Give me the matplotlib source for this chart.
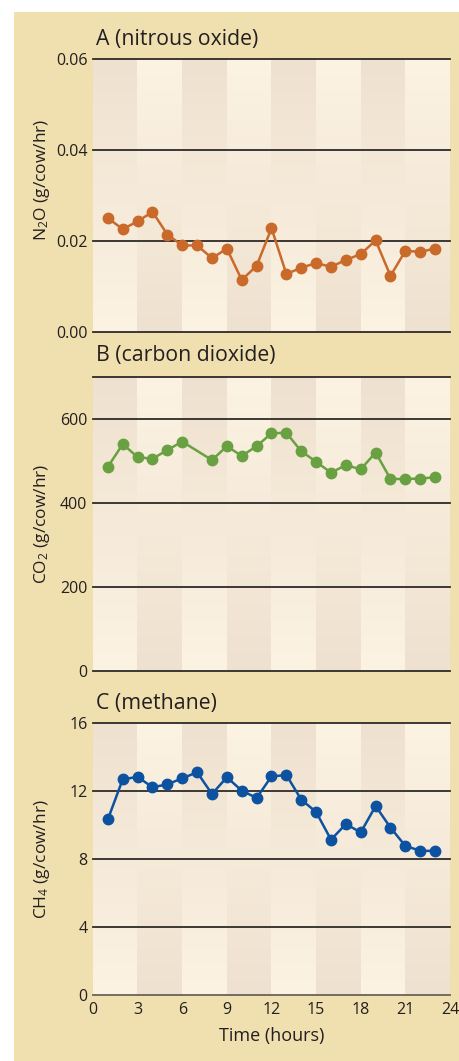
import matplotlib
matplotlib.use("Agg")
import matplotlib.pyplot as plt
import numpy as np
from matplotlib.patches import Rectangle
from matplotlib.colors import to_rgb

plt.rcParams['font.family'] = ['Open Sans', 'DejaVu Sans']
plt.rcParams['mathtext.fontset'] = 'custom'
plt.rcParams['mathtext.rm'] = 'Open Sans'
plt.rcParams['mathtext.it'] = 'Open Sans'

# ---- data ----
hours_a = [1, 2, 3, 4, 5, 6, 7, 8, 9, 10, 11, 12, 13, 14, 15, 16, 17, 18, 19, 20, 21, 22, 23]
n2o = [0.0250, 0.0226, 0.0243, 0.0264, 0.0214, 0.0190, 0.0190, 0.0162, 0.0183, 0.0114,
       0.0145, 0.0228, 0.0127, 0.0141, 0.0151, 0.0143, 0.0158, 0.0171, 0.0201, 0.0123,
       0.0178, 0.0176, 0.0183]

hours_b = [1, 2, 3, 4, 5, 6, 8, 9, 10, 11, 12, 13, 14, 15, 16, 17, 18, 19, 20, 21, 22, 23]
co2 = [486, 540, 509, 505, 526, 546, 502, 535, 512, 535, 566, 567, 523, 498, 472, 490,
       480, 520, 457, 457, 458, 461]

hours_c = [1, 2, 3, 4, 5, 6, 7, 8, 9, 10, 11, 12, 13, 14, 15, 16, 17, 18, 19, 20, 21, 22, 23]
ch4 = [10.34, 12.70, 12.84, 12.23, 12.40, 12.76, 13.11, 11.83, 12.82, 12.03, 11.60, 12.87,
       12.95, 11.50, 10.77, 9.14, 10.06, 9.57, 11.12, 9.85, 8.77, 8.49, 8.47]

titles = ["A (nitrous oxide)", "B (carbon dioxide)", "C (methane)"]
ylabels = [r"N$_2$O (g/cow/hr)", r"CO$_2$ (g/cow/hr)", r"CH$_4$ (g/cow/hr)"]
yticks_a = [0.00, 0.02, 0.04, 0.06]
ytick_labels_a = ["0.00", "0.02", "0.04", "0.06"]
yticks_b = [0, 200, 400, 600]
ytick_labels_b = ["0", "200", "400", "600"]
yticks_c = [0, 4, 8, 12, 16]
ytick_labels_c = ["0", "4", "8", "12", "16"]
xticks = [0, 3, 6, 9, 12, 15, 18, 21, 24]
xlabel = "Time (hours)"

# ---- style ----
W, H = 460, 1061
fig = plt.figure(figsize=(W / 100, H / 100), dpi=100)
fig.patch.set_facecolor('white')
fig.patches.append(Rectangle((14 / W, 0), 1 - 14 / W, 1 - 12 / H,
                             transform=fig.transFigure, facecolor='#F0E0B0',
                             edgecolor='none', zorder=-10))

dark_stripe = np.array(to_rgb('#EFE1CF'))
light_stripe = np.array(to_rgb('#FCF3E3'))
grid_color = '#2E2A28'
text_color = '#231F20'

# background stripes: each 3-hour band fades vertically from dark to light (or reverse)
n_rows = 200
t = np.linspace(0, 1, n_rows)[:, None]  # 0 at top, 1 at bottom
top_dark = dark_stripe * (1 - t) + light_stripe * t
top_light = light_stripe * (1 - t) + dark_stripe * t
stripe_img = np.zeros((n_rows, 8, 3))
for k in range(8):
    stripe_img[:, k, :] = top_dark if k % 2 == 0 else top_light

def px_axes(top, bottom, left=93, right=450):
    return [left / W, 1 - bottom / H, (right - left) / W, (bottom - top) / H]

panels = [
    dict(rect=px_axes(59.3, 331.7), x=hours_a, y=n2o, color='#C96A2A', ylim=(0, 0.06),
         yticks=yticks_a, ylab=ytick_labels_a, grid=yticks_a, title_y=39, ylab_y=180),
    dict(rect=px_axes(377, 670.7), x=hours_b, y=co2, color='#69A142', ylim=(0, 700),
         yticks=yticks_b, ylab=ytick_labels_b, grid=yticks_b + [700], title_y=355, ylab_y=524),
    dict(rect=px_axes(723.3, 994.7), x=hours_c, y=ch4, color='#0D52A0', ylim=(0, 16),
         yticks=yticks_c, ylab=ytick_labels_c, grid=yticks_c, title_y=703, ylab_y=859),
]

for i, p in enumerate(panels):
    ax = fig.add_axes(p['rect'])
    ax.set_zorder(1)
    ax.set_facecolor('none')
    ax.imshow(stripe_img, extent=[0, 24, p['ylim'][0], p['ylim'][1]], aspect='auto',
              interpolation='nearest', origin='upper', zorder=0)
    ax.set_xlim(0, 24)
    ax.set_ylim(*p['ylim'])
    for g in p['grid']:
        c = '#6A625A' if (i == 2 and g == 0) else grid_color
        ax.axhline(g, color=c, lw=1.3, zorder=1, clip_on=False)
    ax.plot(p['x'], p['y'], color=p['color'], lw=1.8, marker='o', ms=7.5,
            zorder=3, clip_on=False)
    for s in ax.spines.values():
        s.set_visible(False)
    ax.set_yticks(p['yticks'])
    ax.set_yticklabels(p['ylab'])
    ax.tick_params(axis='y', length=0, pad=4, labelsize=11.5, labelcolor=text_color)
    if i == 2:
        ax.set_xticks(xticks)
        ax.tick_params(axis='x', length=0, pad=5, labelsize=11.5, labelcolor=text_color)
    else:
        ax.set_xticks([])
    fig.text(96 / W, 1 - p['title_y'] / H, titles[i], fontsize=15.3, color=text_color,
             ha='left', va='center', zorder=5)
    fig.text(42 / W, 1 - p['ylab_y'] / H, ylabels[i], fontsize=12.5, color=text_color,
             rotation=90, ha='center', va='center', zorder=5)

fig.text(272 / W, 1 - 1036 / H, xlabel, fontsize=13, color=text_color,
         ha='center', va='center', zorder=5)

fig.savefig('out.png', dpi=100)
